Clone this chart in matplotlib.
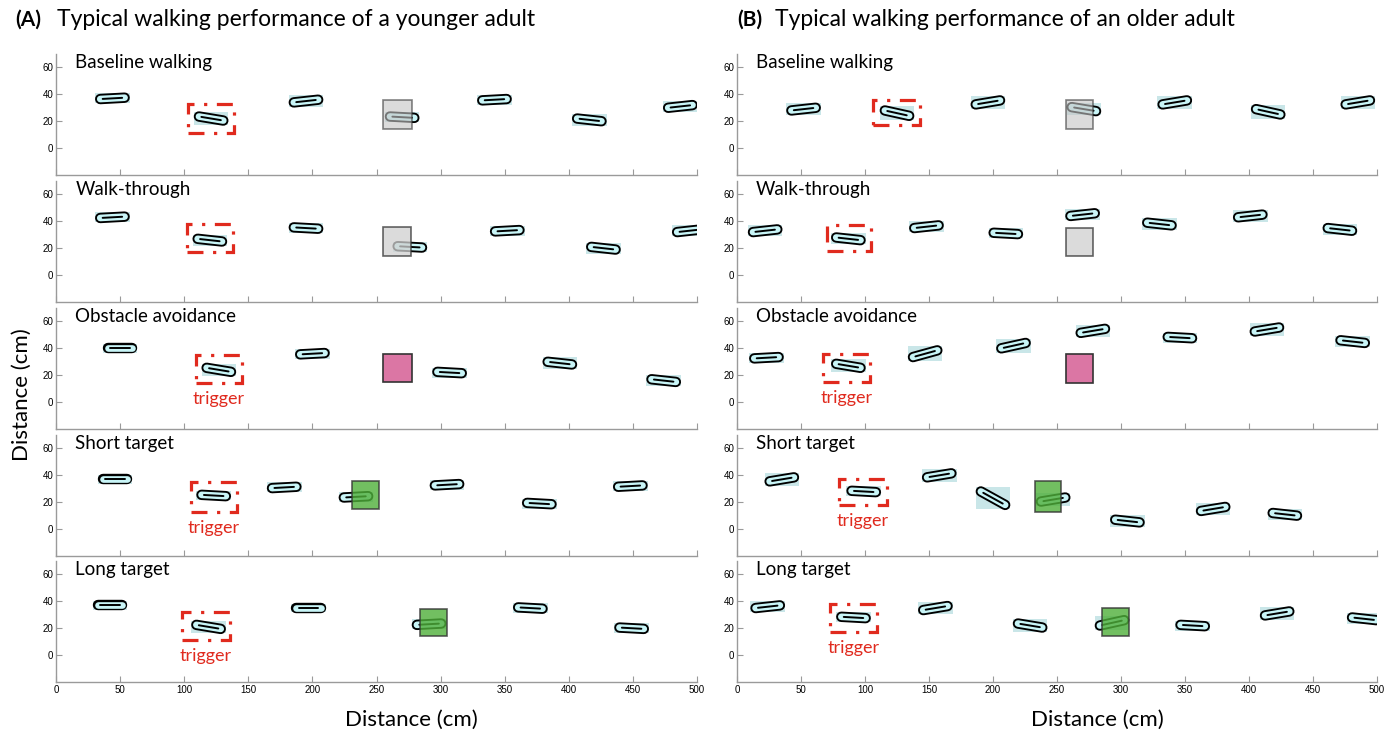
from matplotlib import pyplot as plt
from matplotlib.patches import Rectangle
import numpy as np

plt.rcParams['font.family'] = ['Lato', 'DejaVu Sans']

panel_names = ["Baseline walking", "Walk-through", "Obstacle avoidance",
               "Short target", "Long target"]

# footprint centres (cm), tilt = toe minus heel height (cm)
young_x = [[44, 121, 195, 270, 342, 416, 487],
           [44, 120, 195, 276, 352, 427, 494],
           [50, 127, 200, 307, 393, 474],
           [46, 123, 178, 234, 305, 377, 448],
           [42, 119, 197, 291, 370, 449]]
young_y = [[37, 22, 35, 23, 36, 21, 31],
           [43, 26, 35, 21, 33, 20, 33],
           [40, 24, 36, 22, 29, 16],
           [37, 25, 31, 24, 33, 19, 32],
           [37, 21, 35, 23, 35, 20]]
young_tilt = [[1, -3, 2, -1, 1, -2, 2],
              [1, -2, -1, -1, 1, -2, 2],
              [0, -3, 1, -1, -2, -2],
              [0, -1, 1, 1, 1, -1, 1],
              [0, -3, 0, 1, -1, -1]]

old_x = [[52, 125, 196, 271, 342, 415, 485],
         [22, 87, 148, 210, 270, 330, 401, 471],
         [23, 87, 147, 216, 278, 346, 414, 481],
         [35, 99, 158, 200, 247, 305, 372, 428],
         [24, 91, 155, 229, 293, 356, 422, 490]]
old_y = [[29, 26, 34, 29, 34, 27, 34],
         [33, 27, 36, 31, 45, 38, 44, 34],
         [33, 27, 36, 42, 53, 48, 54, 45],
         [37, 28, 40, 23, 22, 6, 15, 11],
         [36, 28, 35, 22, 24, 22, 31, 27]]
old_tilt = [[2, -4, 3, -3, 3, -4, 3],
            [2, -2, 2, -1, 2, -2, 2, -2],
            [1, -3, 5, 4, 3, -1, 3, -2],
            [3, -1, 3, -10, 3, -2, 3, -2],
            [2, -1, 3, -3, 4, -1, 3, -2]]

# trigger boxes: x0, x1, y0, y1
young_trig = [(103, 139, 11, 33), (102, 138, 17, 38), (109, 145, 14, 35),
              (105, 141, 13, 35), (98, 136, 11, 32)]
old_trig = [(106, 143, 17, 36), (70, 105, 18, 37), (67, 104, 15, 36),
            (80, 117, 18, 37), (73, 109, 17, 38)]
trigger_shown = [False, False, True, True, True]

# obstacle / target boxes: x0, x1, y0, y1
young_obj = [(255, 278, 14, 36), (255, 277, 14, 36), (255, 278, 15, 36),
             (231, 252, 15, 36), (284, 305, 14, 34)]
old_obj = [(257, 278, 14, 36), (257, 278, 14, 35), (257, 278, 14, 36),
           (233, 253, 13, 36), (285, 306, 14, 35)]
obj_colors = ['#c4c4c4', '#d0d0d0', '#db76a4', '#4fb03a', '#4fb03a']
obj_alpha = [0.6, 0.75, 1.0, 0.8, 0.8]

x_ticks = np.arange(0, 501, 50)
y_ticks = [0, 20, 40, 60]

RED = '#e02a1e'


def drawFoot(ax, x, y, tilt):
	h = 9.5
	xs = [x - h, x + h]
	ys = [y - tilt / 2, y + tilt / 2]
	pad = 4.0
	ax.add_patch(Rectangle((x - h - pad, y - abs(tilt) / 2 - 3.2), 2 * (h + pad),
	                       abs(tilt) + 6.4, facecolor='#acdadd', edgecolor='none',
	                       alpha=0.65, zorder=2))
	ax.plot(xs, ys, color='black', lw=7.5, solid_capstyle='round', zorder=3)
	ax.plot(xs, ys, color='#c8f5f7', lw=4.8, solid_capstyle='round', zorder=4)
	k = 0.8
	ax.plot([x - k * h, x + k * h], [y - k * tilt / 2, y + k * tilt / 2],
	        color='black', lw=1.4, solid_capstyle='round', zorder=5)


def drawPanel(ax, i, fx, fy, ft, trig, obj, bottom):
	for x, y, t in zip(fx, fy, ft):
		drawFoot(ax, x, y, t)
	x0, x1, y0, y1 = trig
	ax.add_patch(Rectangle((x0, y0), x1 - x0, y1 - y0, fill=False, edgecolor=RED,
	                       lw=2.3, linestyle=(0, (5, 3, 1, 3)), zorder=6))
	if trigger_shown[i]:
		ax.text((x0 + x1) / 2, y0 - 12, 'trigger', color=RED, fontsize=13,
		        ha='center', va='center', zorder=7)
	x0, x1, y0, y1 = obj
	ax.add_patch(Rectangle((x0, y0), x1 - x0, y1 - y0, facecolor=obj_colors[i],
	                       edgecolor='#333333', lw=1.2, alpha=obj_alpha[i], zorder=6))
	ax.text(15, 64, panel_names[i], fontsize=13.5, ha='left', va='center')
	ax.set_xlim(0, 500)
	ax.set_ylim(-20, 70)
	ax.set_xticks(x_ticks)
	ax.set_yticks(y_ticks)
	for s in ['top', 'right']:
		ax.spines[s].set_visible(False)
	for s in ['left', 'bottom']:
		ax.spines[s].set_color('#9a9a9a')
		ax.spines[s].set_linewidth(1.0)
	ax.tick_params(direction='in', length=4, color='#9a9a9a', labelsize=7,
	               pad=2)
	for lab in ax.get_yticklabels() + ax.get_xticklabels():
		lab.set_family('Liberation Sans')
	if not bottom:
		ax.set_xticklabels([])


fig = plt.figure(figsize=(13.97, 7.36), dpi=100)
W, H = 1397.0, 736.0
tops = [54, 181, 308, 435, 561]
ph = 121
cols = [(56, 697), (737, 1377)]
data = [(young_x, young_y, young_tilt, young_trig, young_obj),
        (old_x, old_y, old_tilt, old_trig, old_obj)]

for c, (l, r) in enumerate(cols):
	fx, fy, ft, trig, obj = data[c]
	for i in range(5):
		ax = fig.add_axes([l / W, 1 - (tops[i] + ph) / H, (r - l) / W, ph / H])
		drawPanel(ax, i, fx[i], fy[i], ft[i], trig[i], obj[i], i == 4)

fig.text(15 / W, 1 - 20 / H, '(A)', fontsize=15, fontweight='bold', va='center')
fig.text(57 / W, 1 - 20 / H, 'Typical walking performance of a younger adult',
         fontsize=16.5, va='center')
fig.text(737 / W, 1 - 20 / H, '(B)', fontsize=15, fontweight='bold', va='center')
fig.text(775 / W, 1 - 20 / H, 'Typical walking performance of an older adult',
         fontsize=16.5, va='center')
fig.text(411 / W, 1 - 720 / H, 'Distance (cm)', fontsize=16, ha='center', va='center')
fig.text(1097 / W, 1 - 720 / H, 'Distance (cm)', fontsize=16, ha='center', va='center')
fig.text(22 / W, 1 - 395 / H, 'Distance (cm)', fontsize=16, rotation=90,
         ha='center', va='center')

fig.savefig('out.png', dpi=100)
